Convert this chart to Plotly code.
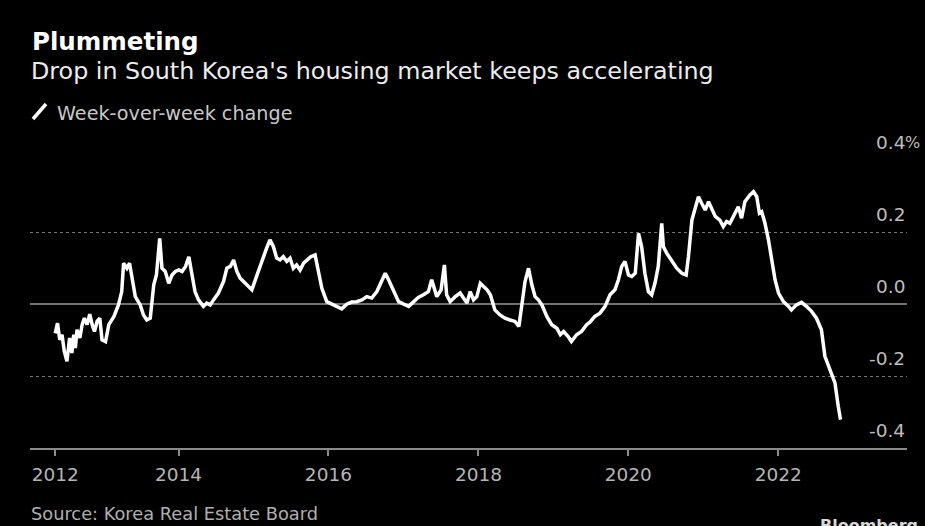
import plotly.graph_objects as go

# Weekly change in South Korean housing prices (%), sampled through the series
dates_2012_2013 = [
    "2012-05-10", "2012-05-21", "2012-06-01", "2012-06-12", "2012-06-23", "2012-07-06",
    "2012-07-19", "2012-07-30", "2012-08-08", "2012-08-16", "2012-08-24", "2012-09-07",
    "2012-09-18", "2012-09-29", "2012-10-12", "2012-10-25", "2012-11-06", "2012-11-17",
    "2012-11-30", "2012-12-13", "2012-12-24",
    "2013-01-10", "2013-01-26", "2013-02-20", "2013-03-14", "2013-03-30", "2013-04-08",
    "2013-04-24", "2013-05-07", "2013-05-18", "2013-06-04", "2013-06-28", "2013-07-14",
    "2013-07-30", "2013-08-16", "2013-09-02", "2013-09-15", "2013-10-01", "2013-10-12",
    "2013-10-28", "2013-11-14", "2013-11-30", "2013-12-16",
]
values_2012_2013 = [
    -0.081, -0.053, -0.099, -0.085, -0.131, -0.159,
    -0.094, -0.136, -0.085, -0.122, -0.071, -0.094,
    -0.057, -0.039, -0.057, -0.028, -0.057, -0.076,
    -0.048, -0.039, -0.099,
    -0.104, -0.057, -0.034, -0.002, 0.035, 0.114,
    0.100, 0.114, 0.081, 0.021, -0.002, -0.030,
    -0.044, -0.039, 0.054, 0.081, 0.183, 0.100,
    0.091, 0.058, 0.081, 0.091,
]

dates_2014_2015 = [
    "2014-01-02", "2014-01-18", "2014-02-04", "2014-02-20", "2014-03-06", "2014-03-22",
    "2014-04-08", "2014-05-02", "2014-05-18", "2014-06-04", "2014-06-20", "2014-07-14",
    "2014-08-08", "2014-08-24", "2014-09-10", "2014-09-26", "2014-10-12", "2014-10-28",
    "2014-11-22", "2014-12-08", "2014-12-24",
    "2015-01-18", "2015-02-12", "2015-03-06", "2015-03-22", "2015-04-08", "2015-04-24",
    "2015-05-10", "2015-05-26", "2015-06-12", "2015-06-28", "2015-07-14", "2015-07-30",
    "2015-08-16", "2015-09-02", "2015-09-18", "2015-10-07", "2015-10-28", "2015-11-14",
    "2015-11-30", "2015-12-24",
]
values_2014_2015 = [
    0.095, 0.091, 0.105, 0.132, 0.086, 0.035,
    0.012, -0.006, 0.003, -0.002, 0.012, 0.031,
    0.063, 0.100, 0.105, 0.123, 0.091, 0.072,
    0.058, 0.049, 0.040,
    0.081, 0.123, 0.156, 0.179, 0.160, 0.128,
    0.123, 0.132, 0.119, 0.128, 0.100, 0.109,
    0.095, 0.114, 0.123, 0.132, 0.137, 0.091,
    0.044, 0.007,
]

dates_2016_2017 = [
    "2016-01-18", "2016-02-12", "2016-03-06", "2016-03-30", "2016-04-24", "2016-05-18",
    "2016-06-12", "2016-07-06", "2016-07-30", "2016-08-24", "2016-09-18", "2016-10-04",
    "2016-10-20", "2016-11-14", "2016-12-08",
    "2017-01-02", "2017-01-26", "2017-02-20", "2017-03-14", "2017-04-08", "2017-05-02",
    "2017-05-18", "2017-06-01", "2017-06-12", "2017-07-03", "2017-07-19", "2017-07-30",
    "2017-08-16", "2017-09-10", "2017-10-04", "2017-10-20", "2017-11-06", "2017-11-22",
    "2017-12-08", "2017-12-24",
]
values_2016_2017 = [
    0.000, -0.006, -0.013, 0.000, 0.006, 0.007,
    0.012, 0.021, 0.017, 0.035, 0.063, 0.086,
    0.068, 0.035, 0.007,
    0.000, -0.006, 0.007, 0.019, 0.026, 0.035,
    0.068, 0.044, 0.021, 0.040, 0.109, 0.026,
    0.007, 0.021, 0.031, 0.017, 0.003, 0.035,
    0.012, 0.021,
]

dates_2018_2019 = [
    "2018-01-10", "2018-01-26", "2018-02-12", "2018-02-28", "2018-03-22", "2018-04-16",
    "2018-05-10", "2018-06-04", "2018-06-28", "2018-07-17", "2018-07-30", "2018-08-16",
    "2018-09-02", "2018-09-18", "2018-10-04", "2018-10-20", "2018-11-06", "2018-11-30",
    "2018-12-24",
    "2019-01-18", "2019-02-04", "2019-02-20", "2019-03-14", "2019-03-30", "2019-04-24",
    "2019-05-18", "2019-06-12", "2019-06-28", "2019-07-22", "2019-08-16", "2019-09-10",
    "2019-10-04", "2019-10-28", "2019-11-14", "2019-11-30", "2019-12-16",
]
values_2018_2019 = [
    0.058, 0.049, 0.040, 0.026, -0.016, -0.030,
    -0.039, -0.044, -0.048, -0.062, -0.002, 0.063,
    0.100, 0.054, 0.021, 0.012, -0.002, -0.034,
    -0.057,
    -0.067, -0.085, -0.076, -0.090, -0.104, -0.085,
    -0.076, -0.057, -0.050, -0.034, -0.025, -0.006,
    0.026, 0.040, 0.068, 0.105, 0.119,
]

dates_2020_2022 = [
    "2020-01-02", "2020-01-18", "2020-02-04", "2020-02-20", "2020-03-06", "2020-03-22",
    "2020-04-08", "2020-04-24", "2020-05-10", "2020-05-26", "2020-06-12", "2020-06-20",
    "2020-07-06", "2020-07-30", "2020-08-24", "2020-09-18", "2020-10-09", "2020-10-20",
    "2020-11-06", "2020-11-22", "2020-12-08", "2020-12-24",
    "2021-01-10", "2021-01-26", "2021-02-12", "2021-02-28", "2021-03-22", "2021-04-08",
    "2021-04-24", "2021-05-10", "2021-06-04", "2021-06-20", "2021-07-06", "2021-07-22",
    "2021-08-16", "2021-09-02", "2021-09-18", "2021-10-01", "2021-10-12", "2021-10-28",
    "2021-11-14", "2021-11-30", "2021-12-16",
    "2022-01-02", "2022-01-26", "2022-02-20", "2022-03-06", "2022-03-30", "2022-04-24",
    "2022-05-18", "2022-06-12", "2022-07-06", "2022-07-30", "2022-08-16", "2022-09-02",
    "2022-09-18", "2022-10-04", "2022-10-20", "2022-10-31",
]
values_2020_2022 = [
    0.081, 0.077, 0.086, 0.197, 0.160, 0.086,
    0.035, 0.026, 0.058, 0.105, 0.225, 0.160,
    0.142, 0.123, 0.100, 0.086, 0.081, 0.132,
    0.234, 0.267, 0.299, 0.280,
    0.262, 0.285, 0.262, 0.244, 0.234, 0.216,
    0.230, 0.225, 0.253, 0.271, 0.239, 0.285,
    0.304, 0.313, 0.299, 0.253, 0.257, 0.225,
    0.179, 0.123, 0.068,
    0.031, 0.007, -0.006, -0.016, -0.002, 0.005,
    -0.006, -0.020, -0.039, -0.071, -0.145, -0.169,
    -0.196, -0.219, -0.284, -0.321,
]

dates = dates_2012_2013 + dates_2014_2015 + dates_2016_2017 + dates_2018_2019 + dates_2020_2022
values = values_2012_2013 + values_2014_2015 + values_2016_2017 + values_2018_2019 + values_2020_2022

x_tick_dates = ["2012-05-10", "2014-01-01", "2016-01-01", "2018-01-01", "2020-01-01", "2022-01-01"]
x_tick_labels = ["2012", "2014", "2016", "2018", "2020", "2022"]
y_tick_values = [0.4, 0.2, 0.0, -0.2, -0.4]
y_tick_labels = ["0.4", "0.2", "0.0", "-0.2", "-0.4"]

W, H = 925, 526
L, R, T, B = 30, 18, 160, 78
PLOT_W, PLOT_H = W - L - R, H - T - B
FONT = "DejaVu Sans"


def px(x):
    return (x - L) / PLOT_W


def py(y):
    return (H - B - y) / PLOT_H


fig = go.Figure()
fig.add_trace(go.Scatter(
    x=dates, y=values, mode="lines",
    line=dict(color="white", width=3.5),
    hoverinfo="skip", showlegend=False,
))

annotations = []
for v, t in zip(y_tick_values, y_tick_labels):
    annotations.append(dict(
        x=1, xref="paper", y=v, yref="y", text=t, showarrow=False,
        xanchor="right", yanchor="middle", yshift=18,
        font=dict(family=FONT, size=18.5, color="#bdbdbd"),
    ))
annotations.append(dict(
    x=1, xref="paper", y=y_tick_values[0], yref="y", text="%", showarrow=False,
    xanchor="left", yanchor="middle", yshift=18, xshift=-4,
    font=dict(family=FONT, size=16, color="#bdbdbd"),
))

annotations += [
    dict(x=px(30), y=py(41), xref="paper", yref="paper", text="<b>Plummeting</b>",
         showarrow=False, xanchor="left", yanchor="middle",
         font=dict(family=FONT, size=24.5, color="white")),
    dict(x=px(29), y=py(71), xref="paper", yref="paper",
         text="Drop in South Korea's housing market keeps accelerating",
         showarrow=False, xanchor="left", yanchor="middle",
         font=dict(family=FONT, size=23.8, color="#ececec")),
    dict(x=px(55), y=py(113), xref="paper", yref="paper", text="Week-over-week change",
         showarrow=False, xanchor="left", yanchor="middle",
         font=dict(family=FONT, size=19.2, color="#c8c8c8")),
    dict(x=px(29), y=py(513), xref="paper", yref="paper", text="Source: Korea Real Estate Board",
         showarrow=False, xanchor="left", yanchor="middle",
         font=dict(family=FONT, size=17.8, color="#b0b0b0")),
    dict(x=px(920), y=py(525), xref="paper", yref="paper", text="<b>Bloomberg</b>",
         showarrow=False, xanchor="right", yanchor="middle",
         font=dict(family=FONT, size=16, color="#d8d8d8")),
]

shapes = [
    dict(type="line", xref="paper", yref="paper",
         x0=px(33), y0=py(119), x1=px(46), y1=py(104),
         line=dict(color="white", width=3.5)),
]

fig.update_layout(
    width=W, height=H,
    margin=dict(l=L, r=R, t=T, b=B, pad=0),
    paper_bgcolor="black", plot_bgcolor="black",
    showlegend=False,
    annotations=annotations,
    shapes=shapes,
    xaxis=dict(
        type="date", range=["2012-01-08", "2023-09-20"],
        tickvals=x_tick_dates, ticktext=x_tick_labels,
        ticks="outside", ticklen=6, tickwidth=1.5, tickcolor="#8a8a8a",
        showline=True, linecolor="#8a8a8a", linewidth=2,
        showgrid=False, zeroline=False,
        tickfont=dict(family=FONT, size=18.5, color="#b5b5b5"),
        ticklabelstandoff=3,
        fixedrange=True,
    ),
    yaxis=dict(
        range=[-0.4, 0.401],
        tickvals=y_tick_values, showticklabels=False, ticks="",
        showgrid=True, gridcolor="#767676", gridwidth=1, griddash="dot",
        zeroline=True, zerolinecolor="#707070", zerolinewidth=2,
        showline=False, fixedrange=True,
    ),
)

fig.write_html("out.html")
